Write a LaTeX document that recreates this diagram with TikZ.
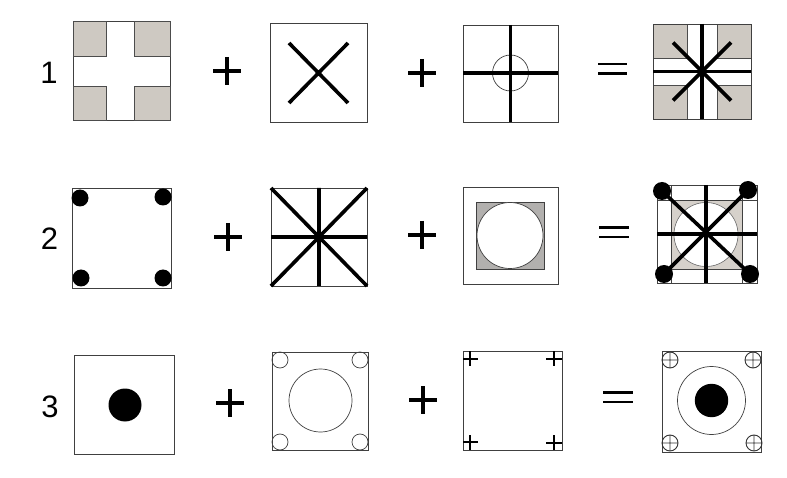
\documentclass[tikz,border=0pt]{standalone}
\usepackage{fontspec}
\setmainfont{Liberation Sans}
\begin{document}
\begin{tikzpicture}[x=1pt,y=-1pt,
  frame/.style={draw=black!75,line width=0.8pt},
  thick line/.style={line width=3.6pt,line cap=butt},
  opsign/.style={line width=3.2pt},
  eqsign/.style={line width=2.8pt},
  shadeA/.style={fill=shadebeige,draw=black!70,line width=0.6pt},
  thin circ/.style={draw=black!75,line width=0.7pt},
  dot/.style={fill=black},
  lbl/.style={font=\fontsize{31}{31}\selectfont,inner sep=0pt}]
\definecolor{shadebeige}{RGB}{206,201,194}
\definecolor{shadegrey}{RGB}{178,176,174}
\definecolor{shadelight}{RGB}{214,209,203}
\useasboundingbox (0,0) rectangle (787,478);
\fill[white] (0,0) rectangle (787,478);

% row labels
\node[lbl] (l1) at (49,73) {1};
\node[lbl] (l2) at (49.5,239) {2};
\node[lbl] (l3) at (50,407) {3};

% ---------- ROW 1 ----------
% Box A
\draw[frame] (73,21) rectangle (170,120);
\draw[shadeA] (73,21) rectangle (106,56);
\draw[shadeA] (134,21) rectangle (170,56);
\draw[shadeA] (73,86) rectangle (106,120);
\draw[shadeA] (134,86) rectangle (170,120);
% plus
\draw[opsign] (213,71) -- (241,71) (227,57) -- (227,85);
% Box B
\draw[frame] (270,23) rectangle (367,122);
\draw[thick line] (289,43) -- (348,103) (348,43) -- (289,103);
% plus
\draw[opsign] (408,73) -- (436,73) (422,59) -- (422,87);
% Box C
\draw[frame] (463,25) rectangle (558,122);
\draw[thin circ] (510.5,73) circle[radius=18];
\draw[thick line] (510.5,25) -- (510.5,122) (463,73) -- (558,73);
% equals
\draw[eqsign] (598,64) -- (627,64) (598,73.5) -- (627,73.5);
% Box D
\draw[frame] (653,24) rectangle (751,119);
\draw[shadeA] (653,24) rectangle (687,58);
\draw[shadeA] (717,24) rectangle (751,58);
\draw[shadeA] (653,85) rectangle (687,119);
\draw[shadeA] (717,85) rectangle (751,119);
\draw[frame] (653,24) rectangle (751,119);
\draw[thick line] (702,24) -- (702,119) (653,71.5) -- (751,71.5);
\draw[thick line] (673,42.5) -- (731,100.5) (731,42.5) -- (673,100.5);

% ---------- ROW 2 ----------
% Box E
\draw[frame] (72,188) rectangle (171,288);
\fill[dot] (80,198) circle[radius=8.5] (163,197) circle[radius=8.5]
  (81,278) circle[radius=8.5] (163,278) circle[radius=8.5];
% plus
\draw[opsign] (214,237) -- (242,237) (228,223) -- (228,251);
% Box F
\draw[frame] (271,188) rectangle (367,286);
\draw[thick line] (271,188) -- (367,286) (367,188) -- (271,286)
  (319,188) -- (319,286) (271,237) -- (367,237);
% plus
\draw[opsign] (408,235) -- (436,235) (422,221) -- (422,249);
% Box G
\draw[frame] (463,187) rectangle (558,284);
\draw[fill=shadegrey,draw=black!75,line width=0.7pt] (476,202) rectangle (544,269);
\draw[fill=white,draw=black!75,line width=0.7pt] (510,235.5) circle[radius=33];
% equals
\draw[eqsign] (599,227.5) -- (629,227.5) (599,237) -- (629,237);
% Box H
\draw[fill=shadelight,draw=none] (671,200) rectangle (742,269);
\draw[fill=white,draw=black!60,line width=0.6pt] (706,234.5) circle[radius=32];
\draw[frame] (657,185) rectangle (757,283);
\draw[black!75,line width=0.7pt] (671,185) -- (671,283) (742,185) -- (742,283)
  (657,200) -- (757,200) (657,269) -- (757,269);
\draw[thick line] (706,185) -- (706,283) (657,234) -- (757,234);
\draw[thick line] (662,191) -- (750,274) (748,190) -- (664,274);
\fill[dot] (662,191) circle[radius=9] (748,190) circle[radius=9]
  (664,274) circle[radius=9] (750,274) circle[radius=9];

% ---------- ROW 3 ----------
% Box I
\draw[frame] (74,355) rectangle (174,454);
\fill[dot] (125,405) circle[radius=16.5];
% plus
\draw[opsign] (216,403) -- (244,403) (230,389) -- (230,417);
% Box J
\draw[frame] (272,352) rectangle (368,450);
\draw[thin circ] (320.5,400.5) circle[radius=31.5];
\draw[thin circ] (280,360) circle[radius=8] (360,360) circle[radius=8]
  (280,442) circle[radius=8] (360,442) circle[radius=8];
% plus
\draw[opsign] (409,400) -- (437,400) (423,386) -- (423,414);
% Box K
\draw[frame] (463,351) rectangle (562,450);
\draw[line width=1.8pt] (463,359) -- (478,359) (470,351) -- (470,366)
  (546,359) -- (562,359) (554,351) -- (554,366)
  (463,442) -- (478,442) (470,435) -- (470,450)
  (546,443) -- (562,443) (554,435) -- (554,450);
% equals
\draw[eqsign] (603,392.5) -- (633,392.5) (603,402) -- (633,402);
% Box L
\draw[frame] (662,351) rectangle (761,452);
\draw[thin circ] (711.5,400.5) circle[radius=34];
\fill[dot] (711.5,400.5) circle[radius=16.7];
\foreach \cx/\cy in {670/360, 753/360, 670/443, 754/443}{
  \draw[black!80,line width=0.9pt] (\cx,\cy) circle[radius=8]
    (\cx-8,\cy) -- (\cx+8,\cy) (\cx,\cy-8) -- (\cx,\cy+8);
}
\end{tikzpicture}
\end{document}
